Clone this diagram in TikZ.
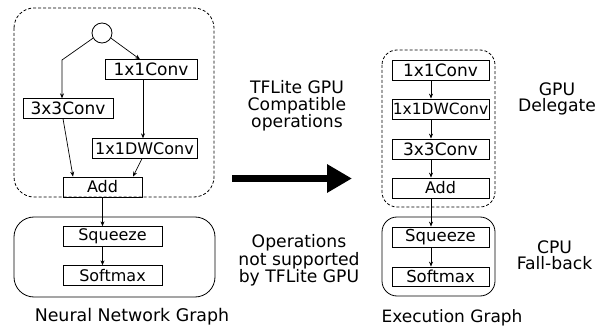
\documentclass[tikz,border=0pt]{standalone}
\usepackage{fontspec}
\setmainfont{DejaVu Sans}
\usetikzlibrary{arrows.meta}
\tikzset{
  x=1pt, y=-1pt,
  opbox/.style={draw, line width=0.8pt, inner sep=0pt, minimum height=19.5pt, font=\fontsize{17}{17}\selectfont},
  arr/.style={line width=0.7pt, -{Stealth[length=5pt,width=4pt]}},
  dashgroup/.style={draw, line width=0.8pt, dash pattern=on 3pt off 2pt},
  solidgroup/.style={draw, line width=0.8pt},
  lbl/.style={align=center, inner sep=0pt, anchor=base}
}
\begin{document}
\begin{tikzpicture}
\useasboundingbox (0,0) rectangle (606,326);
% ---------- left graph ----------
\draw[dashgroup, rounded corners=20pt] (14,8) rectangle (214,197);
\draw[solidgroup, rounded corners=20pt] (14,217) rectangle (215,297);
\node[draw, circle, line width=0.8pt, minimum size=20pt, inner sep=0pt] (circ) at (102,33) {};
\node[opbox, minimum width=92pt] (c11) at (151,69.5) {1x1Conv};
\node[opbox, minimum width=90pt] (c33) at (68,108.5) {3x3Conv};
\node[opbox, minimum width=105pt, font=\fontsize{16}{16}\selectfont] (dw) at (144.5,148.5) {1x1DWConv};
\node[opbox, minimum width=79pt, minimum height=20pt, font=\fontsize{16}{16}\selectfont] (add) at (102.5,187) {Add};
\node[opbox, minimum width=99pt, font=\fontsize{16}{16}\selectfont] (sq) at (112.5,236.5) {Squeeze};
\node[opbox, minimum width=99pt, font=\fontsize{16}{16}\selectfont] (sm) at (112.5,275.5) {Softmax};
\coordinate (lk) at (62,60);
\draw[arr] (circ.210) -- (lk) -- (lk |- c33.north);
\draw[arr] (circ.-30) -- ([xshift=-11pt]c11.north);
\draw[arr] ([xshift=-8pt]c11.south) -- ([xshift=-8pt]c11.south |- dw.north);
\draw[arr] ([xshift=-5pt]c33.south) -- ([xshift=-29.5pt]add.north);
\draw[arr] ([xshift=-2.5pt]dw.south) -- ([xshift=30.5pt]add.north);
\draw[arr] (add.south) -- (add.south |- sq.north);
\draw[arr] (add.south |- sq.south) -- (add.south |- sm.north);
\node[lbl, font=\fontsize{17.4}{17}\selectfont] (lefttitle) at (132,322) {Neural Network Graph};
% ---------- middle ----------
\node[lbl, font=\fontsize{17.2}{17}\selectfont] (gpuops) at (297,128) {TFLite GPU\\Compatible\\operations};
\node[lbl, font=\fontsize{17.2}{14.3}\selectfont] (cpuops) at (299,282.7) {Operations\\not supported\\by TFLite GPU};
\coordinate (bigS) at (232,178.5);
\coordinate (bigE) at (352,178.5);
\draw[line width=7pt, -{Triangle[length=25pt,width=27pt]}] (bigS) -- (bigE);
% ---------- right graph ----------
\draw[dashgroup, rounded corners=15pt] (382,50) rectangle (495,207);
\draw[solidgroup, rounded corners=15pt] (382,217) rectangle (495,296);
\node[opbox, minimum width=97pt, minimum height=20pt] (r11) at (440.5,70) {1x1Conv};
\node[opbox, minimum width=97pt, minimum height=20pt, font=\fontsize{15.5}{15.5}\selectfont] (rdw) at (440.5,109) {1x1DWConv};
\node[opbox, minimum width=97pt, minimum height=20pt] (r33) at (440.5,149) {3x3Conv};
\node[opbox, minimum width=97pt, minimum height=20pt, font=\fontsize{16}{16}\selectfont] (radd) at (440.5,188) {Add};
\node[opbox, minimum width=97pt, minimum height=20pt, font=\fontsize{16.5}{16.5}\selectfont] (rsq) at (440.5,237) {Squeeze};
\node[opbox, minimum width=97pt, minimum height=19pt, font=\fontsize{16.5}{16.5}\selectfont] (rsm) at (440.5,276.5) {Softmax};
\coordinate (rx) at (431,0);
\draw[arr] (rx |- r11.south) -- (rx |- rdw.north);
\draw[arr] (rx |- rdw.south) -- (rx |- r33.north);
\draw[arr] (rx |- r33.south) -- (rx |- radd.north);
\draw[arr] (rx |- radd.south) -- (rx |- rsq.north);
\draw[arr] (rx |- rsq.south) -- (rx |- rsm.north);
\node[lbl, font=\fontsize{17.2}{16}\selectfont] (gpudel) at (557,111.7) {GPU\\Delegate};
\node[lbl, font=\fontsize{17.2}{15.5}\selectfont] (cpufb) at (554.5,269.3) {CPU\\Fall-back};
\node[lbl, font=\fontsize{17}{17}\selectfont] (righttitle) at (452,323) {Execution Graph};
\end{tikzpicture}
\end{document}
